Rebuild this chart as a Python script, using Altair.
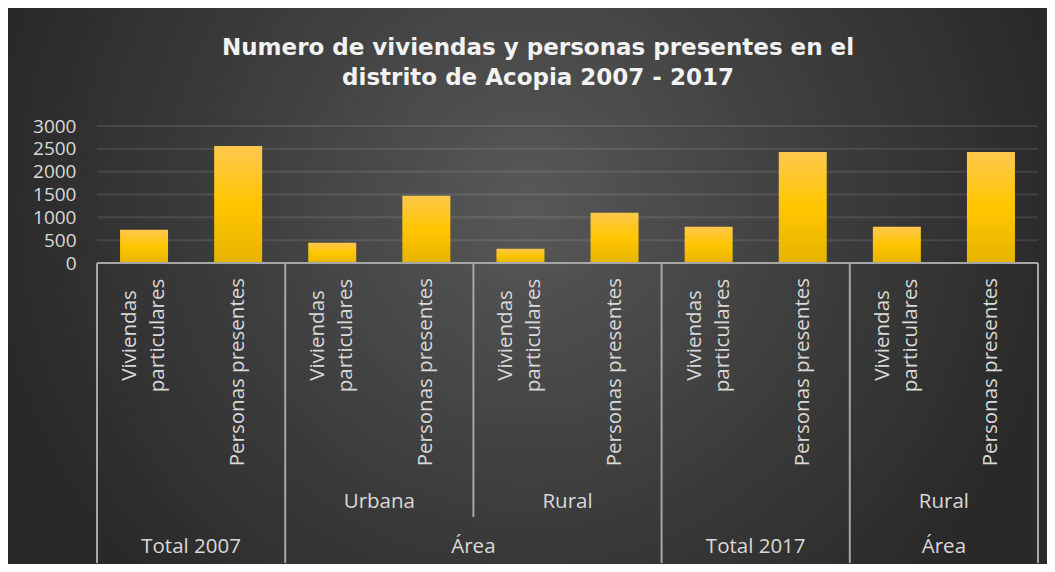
import altair as alt
import pandas as pd

# ---------------- data ----------------
categories = ["Viviendas particulares", "Personas presentes"] * 5
values = [727, 2562, 443, 1470, 312, 1099, 793, 2431, 793, 2431]
level2_labels = ["", "Urbana", "Rural", "", "Rural"]          # one per pair of bars
level3_labels = ["Total 2007", "Área", "Total 2017", "Área"]
level3_sizes = [2, 4, 2, 2]                                    # bars spanned by each level-3 group
title_lines = ["Numero de viviendas y personas presentes en el",
               "distrito de Acopia 2007 - 2017"]
y_ticks = [0, 500, 1000, 1500, 2000, 2500, 3000]

# ---------------- tables ----------------
slots = list(range(len(values)))
bars = pd.DataFrame({"slot": slots, "category": categories, "value": values})
viv = bars[bars["category"].str.startswith("Viviendas")]
per = bars[bars["category"].str.startswith("Personas")]

l2_rows, l2_starts = [], []
for i, lab in enumerate(level2_labels):
    start = 2 * i
    l2_starts.append(start)
    if lab:
        l2_rows.append({"slot": start, "label": lab})
lvl2 = pd.DataFrame(l2_rows)

l3_rows, l3_starts = [], []
s = 0
for lab, n in zip(level3_labels, level3_sizes):
    l3_starts.append(s)
    l3_rows.append({"slot": s + n // 2 - 1, "label": lab})
    s += n
lvl3 = pd.DataFrame(l3_rows)

tall = pd.DataFrame({"slot": l3_starts})
short = pd.DataFrame({"slot": [x for x in l2_starts if x not in l3_starts]})
right_edge = pd.DataFrame({"slot": [slots[-1]]})
grid_df = pd.DataFrame({"v": y_ticks[1:]})
one = pd.DataFrame({"a": [0]})
title_df = pd.DataFrame({"t": ["\n".join(title_lines)]})

# ---------------- layout ----------------
W, H = 941, 137
PAD = {"left": 89, "top": 118, "right": 9, "bottom": 301}
LINE = "#a6a6a6"
TXT = "#d9d9d9"
FONT = "Open Sans"

xscale = alt.Scale(domain=slots, paddingInner=0, paddingOuter=0)
yscale = alt.Scale(domain=[0, 3000], nice=False, zero=True)
yaxis = alt.Axis(
    values=y_ticks, format="d", title=None, ticks=False, domain=False, grid=False,
    labelPadding=21, labelFont=FONT, labelFontSize=19, labelColor=TXT,
    labelOverlap=False, zindex=2,
)


def X(**kw):
    return alt.X("slot:O", scale=xscale, axis=None, **kw)


bg = alt.Chart(one).mark_rect(
    fill={
        "gradient": "radial",
        "x1": 0.5, "y1": 0.42, "r1": 0,
        "x2": 0.5, "y2": 0.42, "r2": 0.52,
        "stops": [
            {"offset": 0, "color": "#585858"},
            {"offset": 0.55, "color": "#3d3d3d"},
            {"offset": 1, "color": "#292929"},
        ],
    }
).encode(
    x=alt.value(-PAD["left"]), x2=alt.value(W + PAD["right"]),
    y=alt.value(-PAD["top"]), y2=alt.value(H + PAD["bottom"]),
)

grid = alt.Chart(grid_df).mark_rule(color="#ffffff", opacity=0.1, strokeWidth=2).encode(
    x=alt.value(0), x2=alt.value(W),
    y=alt.Y("v:Q", scale=yscale, axis=yaxis),
)

bar_layer = alt.Chart(bars).mark_bar(
    width=alt.RelativeBandSize(0.51),
    fill={
        "gradient": "linear", "x1": 0, "y1": 0, "x2": 0, "y2": 1,
        "stops": [
            {"offset": 0, "color": "#ffc84c"},
            {"offset": 0.5, "color": "#ffc600"},
            {"offset": 1, "color": "#e6b400"},
        ],
    },
).encode(
    x=X(),
    y=alt.Y("value:Q", scale=yscale, axis=yaxis),
)

baseline = alt.Chart(one).mark_rule(color=LINE, strokeWidth=2).encode(
    x=alt.value(0), x2=alt.value(W), y=alt.value(H)
)

sep_tall = alt.Chart(tall).mark_rule(color=LINE, strokeWidth=2).encode(
    x=X(bandPosition=0), y=alt.value(H), y2=alt.value(437)
)
sep_short = alt.Chart(short).mark_rule(color=LINE, strokeWidth=2).encode(
    x=X(bandPosition=0), y=alt.value(H), y2=alt.value(391)
)
sep_right = alt.Chart(right_edge).mark_rule(color=LINE, strokeWidth=2).encode(
    x=X(bandPosition=1), y=alt.value(H), y2=alt.value(437)
)

viv_text = alt.Chart(viv).mark_text(
    angle=270, align="center", baseline="middle", lineBreak=" ", lineHeight=28,
    font=FONT, fontSize=20.5, color=TXT, dy=-14,
).encode(x=X(), y=alt.value(209.5), text="category:N")

per_text = alt.Chart(per).mark_text(
    angle=270, align="right", baseline="middle",
    font=FONT, fontSize=20.5, color=TXT,
).encode(x=X(), y=alt.value(152), text="category:N")

lvl2_text = alt.Chart(lvl2).mark_text(
    align="center", baseline="middle", font=FONT, fontSize=20.5, color=TXT,
).encode(x=X(bandPosition=1), y=alt.value(376), text="label:N")

lvl3_text = alt.Chart(lvl3).mark_text(
    align="center", baseline="middle", font=FONT, fontSize=20.5, color=TXT,
).encode(x=X(bandPosition=1), y=alt.value(421), text="label:N")

title = alt.Chart(title_df).mark_text(
    align="center", baseline="middle", lineBreak="\n", lineHeight=30,
    font="DejaVu Sans", fontWeight="bold", fontSize=23, color="#f2f2f2",
).encode(x=alt.value(441), y=alt.value(-78), text="t:N")

chart = alt.layer(
    bg, grid, bar_layer, baseline, sep_tall, sep_short, sep_right,
    viv_text, per_text, lvl2_text, lvl3_text, title,
).properties(
    width=W, height=H,
    autosize=alt.AutoSizeParams(type="none"),
    padding=PAD,
).configure(
    background="#2b2b2b",
).configure_view(stroke=None)

chart.save("out.html", embed_options={"renderer": "svg", "actions": False})
